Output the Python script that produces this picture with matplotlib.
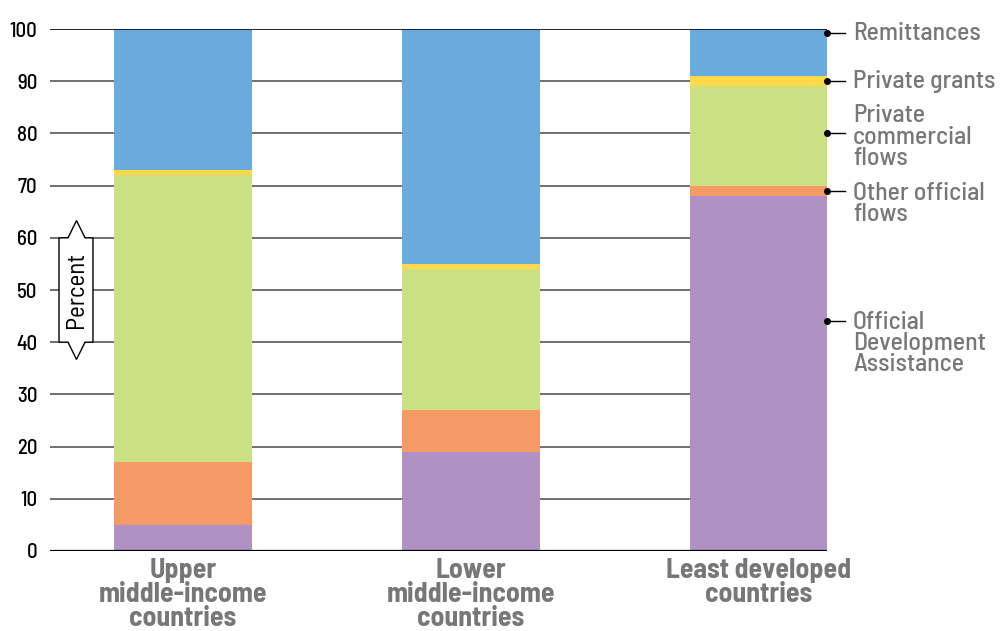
import numpy as np
import matplotlib
matplotlib.use("Agg")
from matplotlib import pyplot as plt
from matplotlib.patches import Polygon
import matplotlib.transforms as mtransforms

plt.rcParams['font.family'] = ['Barlow Semi Condensed', 'DejaVu Sans']

# data (percent of total flows)
groups = ["Upper\nmiddle-income\ncountries", "Lower\nmiddle-income\ncountries", "Least developed\ncountries"]
oda        = [5, 19, 68]
other_off  = [12, 8, 2]
private_cf = [55, 27, 19]
private_gr = [1, 1, 2]
remit      = [27, 45, 9]

series = [oda, other_off, private_cf, private_gr, remit]
colors = ["#b190c4", "#f79a68", "#cbdf83", "#ffd94a", "#6aaadd"]

labels = ["Official\nDevelopment\nAssistance", "Other official\nflows",
          "Private\ncommercial\nflows", "Private grants", "Remittances"]
dot_y  = [44, 69, 80, 90, 99.2]
text_y = [39.8, 66.5, 79.3, 90, 99.2]

yticks = np.arange(0, 101, 10)

fig = plt.figure(figsize=(10, 6.31), dpi=100)
ax = fig.add_axes([0.05, 0.1268, 0.777, 0.8272])

x = np.arange(len(groups))
width = 0.479
bottom = np.zeros(len(groups))
for vals, c in zip(series, colors):
    ax.bar(x, vals, width, bottom=bottom, color=c, zorder=3, linewidth=0)
    bottom += np.array(vals)

ax.set_xlim(-0.462, 2.236)
ax.set_ylim(0, 100)

for t in yticks:
    if t == 0:
        ax.axhline(t, color="black", lw=1.6, zorder=4)
    elif t == 100:
        ax.axhline(t, color="#222222", lw=1.4, zorder=4)
    else:
        ax.axhline(t, color="#666666", lw=1.3, zorder=1)

for s in ax.spines.values():
    s.set_visible(False)
ax.set_yticks(yticks)
ax.set_yticklabels([str(t) for t in yticks], fontsize=15, color="black", fontweight=500)
ax.tick_params(axis="y", length=0, pad=9)
ax.set_xticks(x)
ax.set_xticklabels(groups, fontsize=20, fontweight="bold", color="#777777", linespacing=0.95)
ax.tick_params(axis="x", length=0, pad=5)

# "Percent" double arrow box
trans = mtransforms.blended_transform_factory(ax.transAxes, ax.transData)
box = [(0.0116, 60), (0.0232, 60), (0.0341, 63.3), (0.0451, 60), (0.0553, 60),
       (0.0553, 40), (0.0451, 40), (0.0341, 36.7), (0.0232, 40), (0.0116, 40)]
ax.add_patch(Polygon(box, closed=True, facecolor="white", edgecolor="black",
                     lw=1, transform=trans, zorder=5, clip_on=False))
ax.text(0.0341, 50, "Percent", rotation=90, ha="center", va="center",
        fontsize=18, transform=trans, zorder=6)

# right-hand labels
for lab, dy, ty in zip(labels, dot_y, text_y):
    ax.plot([1.0, 1.0232], [dy, dy], color="black", lw=1, transform=trans, clip_on=False, zorder=6)
    ax.plot([1.0], [dy], "o", color="black", ms=4, transform=trans, clip_on=False, zorder=6)
    ax.text(1.0335, ty, lab, ha="left", va="center", fontsize=18.5, color="#777777",
            fontweight=500, linespacing=0.9, transform=trans)

fig.savefig("out.png", dpi=100)
